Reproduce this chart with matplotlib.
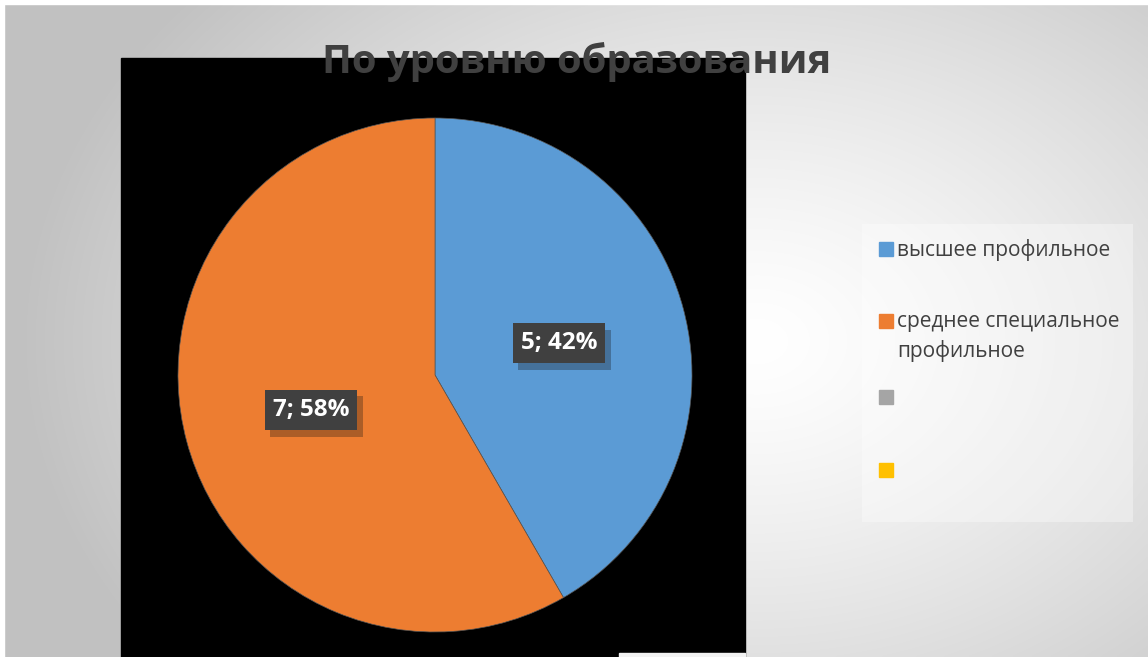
import numpy as np
import matplotlib
matplotlib.use('Agg')
import matplotlib.pyplot as plt
from matplotlib.patches import Rectangle
import matplotlib.patheffects as pe

W, H = 1148, 657

categories = ['высшее профильное', 'среднее специальное\nпрофильное', '', '']
counts = [5, 7, 0, 0]
colors = ['#5B9BD5', '#ED7D31', '#A5A5A5', '#FFC000']
title = 'По уровню образования'

plt.rcParams['font.family'] = ['Open Sans', 'DejaVu Sans']


def px(x, y):
    '''Pixel (from top-left) to figure fraction.'''
    return x / W, 1 - y / H


fig = plt.figure(figsize=(W / 100, H / 100), dpi=100)

# background radial gradient
bg = fig.add_axes([0, 0, 1, 1], zorder=-5)
xx, yy = np.meshgrid(np.linspace(0, 1, 400), np.linspace(0, 1, 240))
r = np.sqrt(((xx - 0.66) / 0.66) ** 2 + ((yy - 0.52) / 0.85) ** 2)
g = np.clip(1.0 - 0.25 * r ** 1.3, 0.76, 1)
bg.imshow(np.dstack([g, g, g]), extent=[0, 1, 0, 1], aspect='auto',
          origin='upper', interpolation='bilinear')
bg.set_xlim(0, 1)
bg.set_ylim(0, 1)
bg.axis('off')

# white strips at top and left
fig.patches.append(Rectangle((0, 1 - 4 / H), 1, 4 / H, color='white',
                             transform=fig.transFigure, zorder=1))
fig.patches.append(Rectangle((0, 0), 4 / W, 1, color='white',
                             transform=fig.transFigure, zorder=1))

# black plot area
x0, y0 = px(121, 657)
fig.patches.append(Rectangle((x0, y0), 624 / W, (657 - 58) / H,
                             color='black', transform=fig.transFigure,
                             zorder=1))
fig.patches.append(Rectangle(px(619, 657), 126 / W, 4 / H,
                             color='#f2f2f2', transform=fig.transFigure,
                             zorder=1))

# pie
ax = fig.add_axes([178 / W, (657 - 632) / H, 514 / W, 514 / H], zorder=3)
ax.set_facecolor('none')
vals = [v for v in counts if v > 0]
total = sum(vals)
wedges, texts = ax.pie(vals, colors=colors[:len(vals)], startangle=90,
                       counterclock=False, radius=1,
                       wedgeprops=dict(linewidth=0.5, edgecolor='#555555'))
for w, v in zip(wedges, vals):
    ang = np.deg2rad((w.theta1 + w.theta2) / 2)
    t = ax.text(0.5 * np.cos(ang), 0.5 * np.sin(ang) - 0.005,
                f'{v}; {round(100 * v / total)}%', ha='center', va='center',
                color='white', fontsize=17.5, fontweight='bold',
                bbox=dict(boxstyle='square,pad=0.33', fc='#404040',
                          ec='none'))
    t.get_bbox_patch().set_path_effects(
        [pe.SimplePatchShadow(offset=(4, -5), alpha=0.3), pe.Normal()])
ax.set_xlim(-1, 1)
ax.set_ylim(-1, 1)
ax.set_aspect('equal')
ax.axis('off')

# title (on its own overlay axes so it sits above everything)
top = fig.add_axes([0, 0, 1, 1], zorder=10)
top.axis('off')
tx, ty = px(577, 62)
top.text(tx, ty, title, ha='center', va='center', fontsize=28.8,
         fontweight='bold', color='#404040', transform=fig.transFigure)

# legend
lx, ly = px(862, 522)
fig.patches.append(Rectangle((lx, ly), (1133 - 862) / W, (522 - 224) / H,
                             facecolor='white', alpha=0.35, edgecolor='none',
                             transform=fig.transFigure, zorder=2))
entry_y = [249, 321, 397, 470]
for lab, col, ey in zip(categories, colors, entry_y):
    sx, sy = px(879, ey + 7)
    fig.patches.append(Rectangle((sx, sy), 14 / W, 14 / H, color=col,
                                 transform=fig.transFigure, zorder=3))
    if lab:
        tx, ty = px(897, ey - 10)
        fig.text(tx, ty, lab, ha='left', va='top', fontsize=15,
                 color='#404040', linespacing=1.5, zorder=4)

fig.savefig('out.png', dpi=100)
